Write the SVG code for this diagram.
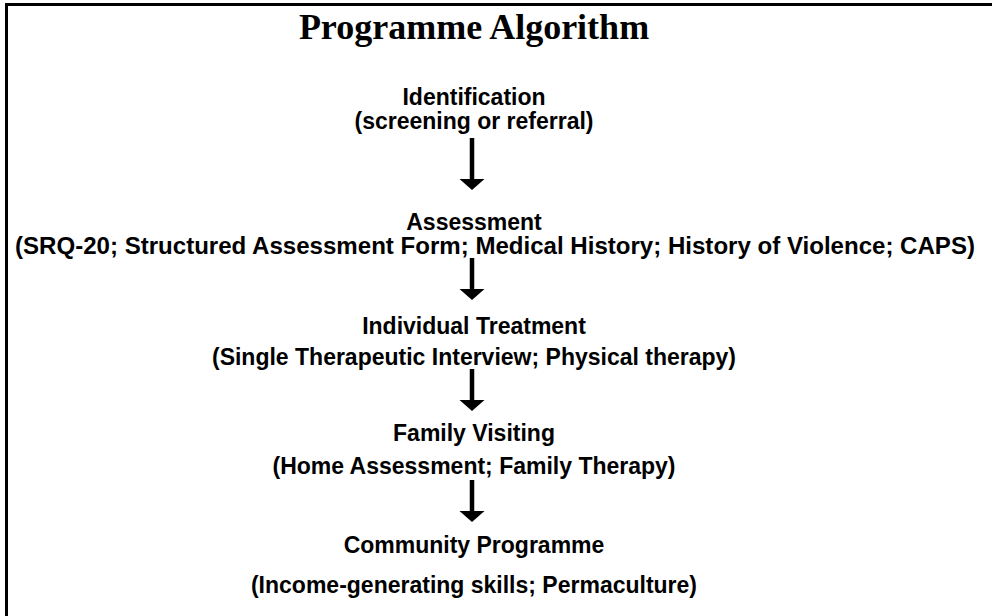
<svg xmlns="http://www.w3.org/2000/svg" width="992" height="616" viewBox="0 0 992 616">
  <style>
    .title { font-family: "Liberation Serif", "Times New Roman", serif; font-weight: bold; font-size: 36px; fill: #000; text-anchor: middle; }
    .lbl { font-family: "Liberation Sans", Arial, sans-serif; font-weight: bold; font-size: 23px; fill: #000; text-anchor: middle; }
    .shaft { stroke: #000; stroke-width: 4.5; fill: none; }
    .head { fill: #000; }
  </style>
  <defs>
    <!-- arrowhead: filled triangle, tip at origin -->
    <polygon id="head" class="head" points="-12.5,-11 12.5,-11 0,0"/>
  </defs>

  <rect x="0" y="0" width="992" height="616" fill="#fff"/>
  <!-- frame (open to the right and bottom) -->
  <rect x="6.5" y="4.5" width="1000" height="700" fill="none" stroke="#000" stroke-width="3"/>

  <text class="title" x="474" y="39">Programme Algorithm</text>

  <g id="identification">
    <text class="lbl" x="474" y="105">Identification</text>
    <text class="lbl" x="474" y="129">(screening or referral)</text>
  </g>

  <g id="assessment">
    <text class="lbl" x="474" y="230">Assessment</text>
    <text class="lbl" x="495" y="254" textLength="960" lengthAdjust="spacingAndGlyphs">(SRQ-20; Structured Assessment Form; Medical History; History of Violence; CAPS)</text>
  </g>

  <g id="individual-treatment">
    <text class="lbl" x="474" y="334">Individual Treatment</text>
    <text class="lbl" x="474" y="365">(Single Therapeutic Interview; Physical therapy)</text>
  </g>

  <g id="family-visiting">
    <text class="lbl" x="474" y="441">Family Visiting</text>
    <text class="lbl" x="474" y="474">(Home Assessment; Family Therapy)</text>
  </g>

  <g id="community-programme">
    <text class="lbl" x="474" y="553">Community Programme</text>
    <text class="lbl" x="474" y="593">(Income-generating skills; Permaculture)</text>
  </g>

  <g id="connectors">
    <line class="shaft" x1="472" y1="138" x2="472" y2="181"/>
    <use href="#head" x="472" y="190"/>
    <line class="shaft" x1="472" y1="258" x2="472" y2="291"/>
    <use href="#head" x="472" y="300"/>
    <line class="shaft" x1="472" y1="369" x2="472" y2="402"/>
    <use href="#head" x="472" y="411"/>
    <line class="shaft" x1="472" y1="480" x2="472" y2="513"/>
    <use href="#head" x="472" y="522"/>
  </g>
</svg>
